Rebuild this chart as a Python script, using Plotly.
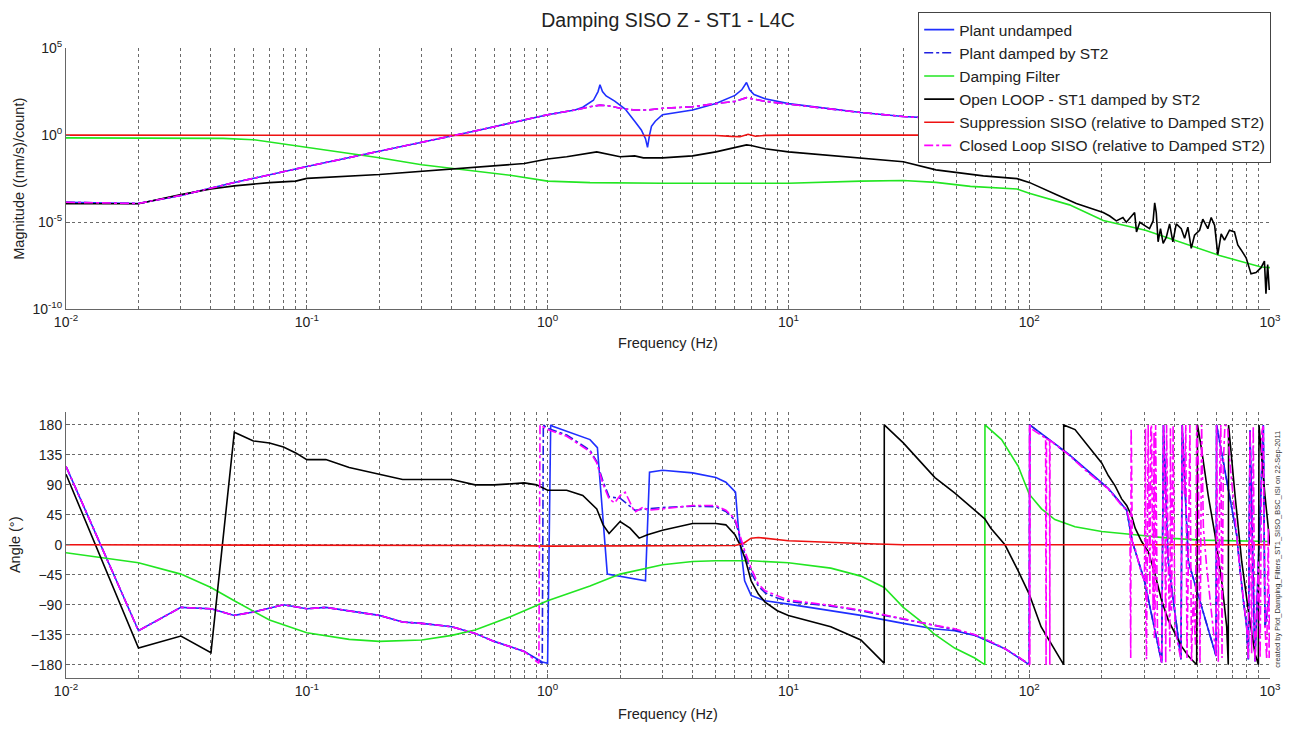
import plotly.graph_objects as go

# ---------------- Magnitude data ----------------
f_plant_mag = [0.01, 0.02, 0.03, 0.05, 0.1, 0.2, 0.4, 0.5, 1.0, 1.3, 1.4, 1.55, 1.62, 1.65, 1.69, 1.75, 1.9, 2.1,
               2.3, 2.45, 2.55, 2.6, 2.65, 2.7, 2.8, 3.0, 4.0, 5.0, 6.0, 6.4, 6.7, 6.9, 7.2, 8.0, 10, 20, 30, 40,
               100, 1000]
plant_undamped_mag = [1.4e-4, 1.2e-4, 3.5e-4, 1.9e-3, 0.0158, 0.117, 0.91, 1.74, 14.8, 27.5, 39.8, 100, 316, 776,
                      316, 178, 89, 31.6, 6.3, 2.0, 0.63, 0.2, 1.0, 3.2, 6.3, 14.8, 27.5, 64.6, 190, 398, 1047,
                      398, 214, 123, 64.6, 20, 11.7, 9.5, 4.0, 0.4]

f_damped_mag = [0.01, 0.02, 0.03, 0.05, 0.1, 0.2, 0.4, 0.5, 1.0, 1.3, 1.5, 1.65, 1.8, 2.0, 2.3, 2.6, 3.0, 4.0,
                5.0, 6.0, 6.7, 7.5, 8.0, 10, 20, 30, 40, 100, 1000]
plant_damped_mag = [1.4e-4, 1.2e-4, 3.5e-4, 1.9e-3, 0.0158, 0.117, 0.91, 1.74, 14.8, 27.5, 42.7, 52.5, 47.9, 34.7,
                    27.5, 27.5, 34.7, 42.7, 64.6, 87, 141, 110, 87, 60, 20, 11.7, 9.5, 4.0, 0.4]
closed_loop_mag = [1.4e-4, 1.2e-4, 3.5e-4, 1.9e-3, 0.0158, 0.117, 0.91, 1.74, 14.8, 27.5, 42.7, 52.5, 47.9, 34.7,
                   27.5, 27.5, 34.7, 42.7, 64.6, 87, 141, 110, 87, 60, 20, 11.7, 9.5, 4.0, 0.4]

f_filter_mag = [0.01, 0.02, 0.03, 0.045, 0.06, 0.09, 0.1, 0.2, 0.3, 0.4, 0.5, 0.7, 1.0, 1.5, 3, 10, 20, 30, 41,
                57, 89, 100, 147, 203, 304, 617, 918, 1000]
filter_mag = [0.7, 0.7, 0.7, 0.65, 0.55, 0.25, 0.21, 0.05, 0.02, 0.0126, 8.5e-3, 5.0e-3, 2.3e-3, 1.9e-3, 1.74e-3,
              1.74e-3, 2.3e-3, 2.5e-3, 1.95e-3, 1.15e-3, 8.1e-4, 4.7e-4, 1.0e-4, 1.26e-5, 3.5e-6, 1.26e-7,
              2.7e-8, 2.5e-8]

f_open_mag = [0.01, 0.02, 0.03, 0.04, 0.05, 0.07, 0.09, 0.1, 0.2, 0.3, 0.4, 0.5, 0.7, 0.8, 1.0, 1.2, 1.6, 1.8,
              2.0, 2.3, 2.5, 3.0, 4.0, 5.0, 6.0, 6.7, 7.0, 8.0, 10, 20, 30, 41, 64.5, 89, 100, 130, 157, 203,
              216, 230, 245, 253, 266, 274, 279, 288, 302, 316, 327, 332, 337, 343, 351, 360, 371, 383, 395,
              408, 428, 442, 456, 471, 486, 510, 526, 552, 570, 589, 607, 627, 647, 679, 712, 735, 759, 796,
              834, 875, 918, 948, 962, 978, 993]
open_loop_mag = [1.17e-4, 1.17e-4, 3.9e-4, 8.1e-4, 1.23e-3, 1.9e-3, 2.3e-3, 3.3e-3, 5.5e-3, 8.5e-3, 0.0117,
                 0.0141, 0.0214, 0.0234, 0.0427, 0.0575, 0.11, 0.081, 0.0575, 0.0646, 0.05, 0.05, 0.0646, 0.11,
                 0.204, 0.275, 0.257, 0.166, 0.11, 0.0468, 0.030, 0.0102, 4.6e-3, 3.2e-3, 1.95e-3, 3.8e-4,
                 1.2e-4, 3.6e-5, 2.3e-5, 1.2e-5, 1.9e-5, 1.0e-5, 2.3e-5, 3.6e-5, 2.8e-6, 1.0e-5, 6.5e-6, 4.3e-6,
                 1.2e-5, 1.3e-4, 3.6e-5, 7.6e-7, 4.3e-6, 6.2e-7, 1.4e-6, 8.1e-6, 7.6e-7, 8.1e-6, 4.3e-6,
                 1.2e-6, 5.2e-6, 3.2e-7, 1.8e-6, 3.5e-6, 1.5e-5, 4.3e-6, 1.9e-5, 6.5e-6, 1.4e-7, 2.2e-6,
                 9.5e-7, 3.5e-6, 2.8e-6, 5.0e-7, 2.6e-7, 9.1e-8, 1.1e-8, 1.3e-8, 2.5e-8, 5.9e-8, 8.1e-10,
                 3.8e-8, 1.3e-9]

f_supp_mag = [0.01, 1.0, 1.6, 5.0, 5.8, 6.3, 6.8, 7.3, 8.0, 10, 100, 1000]
suppression_mag = [1.0, 1.0, 0.95, 0.95, 0.85, 0.82, 1.12, 0.86, 0.97, 1.0, 1.0, 1.0]

# ---------------- Phase data (degrees) ----------------
f_undamped_ph = [0.01, 0.02, 0.03, 0.04, 0.05, 0.06, 0.08, 0.1, 0.12, 0.15, 0.2, 0.25, 0.3, 0.4, 0.5, 0.6, 0.8,
                 0.95, 1.0, 1.03, 1.05, 1.5, 1.61, 1.77, 2.0, 2.55, 2.65, 3.0, 4.0, 5.0, 5.5, 6.03, 6.2, 6.58,
                 7.0, 8.0, 10, 20, 30, 40, 49, 59.4, 79.3, 100, 100.5, 145, 213, 254, 268, 301, 355, 361, 378,
                 427, 432, 458, 597, 600, 727, 751, 775, 800, 813, 826, 866, 895, 938, 953, 1000]
plant_undamped_ph = [118, -129, -94, -96, -106, -101, -90, -96, -94, -99, -106, -116, -118, -123, -133, -145,
                     -160, -176, -178, 180, 178, 158, 146, -44, -47, -54, 109, 112, 108, 101, 94, 79, 25, -54,
                     -76, -84, -89, -106, -118, -126, -129, -136, -156, -180, 180, 137, 85, 52, 5, -54, -177, 180,
                     -25, -172, 180, -25, -167, 180, 15, -39, -84, -123, -172, 172, -175, -25, 180, -123, -74]

f_damped_ph = [0.01, 0.02, 0.03, 0.04, 0.05, 0.06, 0.08, 0.1, 0.12, 0.15, 0.2, 0.25, 0.3, 0.4, 0.5, 0.6, 0.8,
               0.95, 0.96, 1.0, 1.2, 1.5, 1.6, 1.7, 1.8, 2.0, 2.3, 2.6, 3, 4, 5, 5.5, 6, 6.3, 6.6, 7, 7.5, 8, 9,
               10, 15, 20, 30, 40.6, 59.4, 79.3, 100, 100.5, 145, 213, 254, 268, 301, 355, 361, 378, 427, 432,
               458, 597, 600, 727, 751, 775, 800, 813, 826, 866, 895, 938, 953, 1000]
plant_damped_ph = [118, -129, -94, -96, -106, -101, -90, -96, -94, -99, -106, -116, -118, -123, -133, -145, -160,
                   -178, 180, 175, 165, 142, 125, 95, 72, 70, 52, 54, 56, 58, 57, 50, 37, 12, -15, -42, -62, -72,
                   -80, -85, -92, -99, -112, -121, -135, -156, -179, 180, 136, 84, 52, 5, -54, -177, 180, -25,
                   -172, 180, -25, -167, 180, 15, -39, -84, -123, -172, 172, -175, -25, 180, -123, -74]

f_filter_ph = [0.01, 0.02, 0.03, 0.04, 0.05, 0.07, 0.1, 0.15, 0.2, 0.3, 0.4, 0.5, 0.7, 1.0, 1.5, 2, 3, 4, 5, 7,
               10, 15, 20, 25, 30, 35, 40, 49, 59.4, 65.4, 65.5, 76.8, 90, 100, 112.5, 127.8, 155, 200, 275,
               378, 519, 1000]
filter_ph = [-12, -27, -44, -64, -84, -113, -132, -142, -145, -143, -136, -128, -108, -84, -62, -44, -30, -25,
             -24, -24, -27, -35, -47, -64, -94, -113, -133, -155, -170, -180, 180, 158, 118, 76, 54, 38, 27, 20,
             15, 10, 7, 5]

f_open_ph = [0.01, 0.02, 0.03, 0.04, 0.05, 0.06, 0.07, 0.08, 0.09, 0.1, 0.12, 0.15, 0.2, 0.25, 0.3, 0.4, 0.5,
             0.6, 0.8, 0.9, 1.0, 1.2, 1.4, 1.6, 1.7, 1.8, 2.0, 2.2, 2.4, 2.6, 3, 4, 5, 5.5, 6, 6.3, 6.6, 7, 7.5,
             8, 9, 10, 15, 20, 25, 25.01, 30, 40.6, 49, 59.4, 65.4, 69.3, 79.3, 90, 100, 112, 126, 139, 139.1,
             155, 176, 200, 213, 227, 242, 254, 266, 275.5, 293, 312, 333, 355, 378, 403, 430, 458, 496, 500,
             520, 554, 591, 630, 661, 671, 673, 716, 763, 813, 866, 895, 900, 953, 1000]
open_loop_ph = [106, -155, -137, -162, 169, 156, 153, 147, 138, 128, 128, 116, 106, 98, 98, 98, 90, 90, 93, 90,
                82, 82, 74, 54, 30, 17, 35, 25, 10, 15, 22, 32, 32, 30, 15, 0, -20, -54, -74, -86, -99, -106,
                -123, -143, -178, 180, 153, 101, 78, 52, 39, 25, 0, -39, -74, -123, -153, -180, 180, 173, 148,
                123, 104, 89, 69, 59, 44, 25, 5, -10, -44, -84, -113, -133, -153, -167, -180, 180, 143, 74, 15,
                -54, -123, -180, 180, 74, -25, -99, -163, -180, 180, 74, 0]

f_supp_ph = [0.01, 0.5, 0.7, 1.0, 5, 6, 6.5, 7, 7.5, 9, 10, 20, 30, 1000]
suppression_ph = [0, 0, -1, -2, -2, -1, 2, 10, 11, 8, 6, 2, 0, 0]

f_closed_ph = [0.01, 0.02, 0.03, 0.04, 0.05, 0.06, 0.08, 0.1, 0.12, 0.15, 0.2, 0.25, 0.3, 0.4, 0.5, 0.6, 0.8,
               0.92, 0.93, 1.0, 1.2, 1.5, 1.6, 1.7, 1.8, 1.9, 2.0, 2.1, 2.3, 2.5, 2.6, 3, 4, 5, 5.5, 6, 6.3, 6.6,
               7, 7.5, 8, 9, 10, 15, 20, 30, 40.6, 49, 59.4, 65.4, 79.3, 90, 100, 100.3, 100.6, 101, 101.4, 117,
               117.5, 118, 121.5, 121.8, 122, 145, 176, 213,
               242, 254, 262, 264, 265, 266, 268, 275, 284, 293, 301, 304, 305, 307, 312, 315, 317, 320, 322,
               327, 330, 331, 333, 335, 341, 349, 355, 361, 366, 369, 372, 378, 384, 386, 390, 396, 403, 416,
               427, 432, 441, 447, 452, 458, 465, 472, 480, 490, 496, 504, 512, 520, 529, 546, 564, 582, 597,
               600, 610, 620, 625, 632, 640, 650, 667, 682, 704, 727, 751, 775, 800, 813, 826, 839, 852, 866,
               880, 895, 910, 925, 938, 953, 969, 984, 992, 1000]
closed_loop_ph = [118, -129, -94, -96, -106, -101, -90, -96, -94, -99, -106, -116, -118, -123, -133, -145, -160,
                  -178, 180, 173, 163, 140, 123, 91, 69, 63, 74, 79, 49, 57, 52, 54, 59, 59, 52, 39, 15, -10,
                  -35, -59, -69, -76, -83, -91, -98, -111, -121, -126, -135, -141, -156, -168, -180, 180, -180,
                  180, 175, 160, -180, 159, 157, -180, 157, 136, 108, 84,
                  59, 52, 34, -170, 175, 140, 5, -5, -25, -44, -54, 175, -120, -172, 180, -60, -74, 178, 180,
                  -99, 170, -140, -123, 180, -133, -163, -177, 180, 74, -178, 180, -25, -160, 175, -99, 180,
                  -123, -153, -172, 180, 74, 180, -170, -25, 180, -175, -74, -150, 180, 123, -178, 180, 25, -34,
                  -84, -133, -167, 180, -176, 148, 180, -170, 123, 180, 177, 123, 74, 15, -39, -84, -123, -172,
                  172, -163, 178, -175, -120, -25, -170, 170, 180, -123, -172, 25, -170, -74]

mag_tickvals = [1e-10, 1e-5, 1, 1e5]
mag_ticktext = ["10<sup>-10</sup>", "10<sup>-5</sup>", "10<sup>0</sup>", "10<sup>5</sup>"]
freq_tickvals = [0.01, 0.1, 1, 10, 100, 1000]
freq_ticktext = ["10<sup>-2</sup>", "10<sup>-1</sup>", "10<sup>0</sup>", "10<sup>1</sup>", "10<sup>2</sup>",
                 "10<sup>3</sup>"]
phase_tickvals = [-180, -135, -90, -45, 0, 45, 90, 135, 180]

names = ["Plant undamped", "Plant damped by ST2", "Damping Filter", "Open LOOP - ST1 damped by ST2",
         "Suppression SISO (relative to Damped ST2)", "Closed Loop SISO (relative to Damped ST2)"]
colors = ["#1f2fff", "#2020e0", "#22e622", "#000000", "#ee1111", "#ff00ff"]
dashes = ["solid", "dashdot", "solid", "solid", "solid", "dashdot"]

mag_series = [(f_plant_mag, plant_undamped_mag), (f_damped_mag, plant_damped_mag), (f_filter_mag, filter_mag),
              (f_open_mag, open_loop_mag), (f_supp_mag, suppression_mag), (f_damped_mag, closed_loop_mag)]
ph_series = [(f_undamped_ph, plant_undamped_ph), (f_damped_ph, plant_damped_ph), (f_filter_ph, filter_ph),
             (f_open_ph, open_loop_ph), (f_supp_ph, suppression_ph), (f_closed_ph, closed_loop_ph)]

fig = go.Figure()
for i, (fx, fy) in enumerate(mag_series):
    fig.add_trace(go.Scatter(x=fx, y=fy, mode="lines", name=names[i], legendgroup=names[i],
                             line=dict(color=colors[i], width=1.6, dash=dashes[i]),
                             xaxis="x", yaxis="y"))
for i, (fx, fy) in enumerate(ph_series):
    fig.add_trace(go.Scatter(x=fx, y=fy, mode="lines", name=names[i], legendgroup=names[i], showlegend=False,
                             line=dict(color=colors[i], width=1.6, dash=dashes[i]),
                             xaxis="x2", yaxis="y2"))

minor_vals = [m * 10 ** k for k in range(-2, 3) for m in range(2, 10)]
grid_style = dict(showgrid=True, gridcolor="#6a6a6a", gridwidth=1, griddash="dot")
axis_style = dict(showline=True, linecolor="#666", linewidth=1, ticks="inside", ticklen=4, tickcolor="#666",
                  tickfont=dict(size=14, color="#222"), zeroline=False, mirror=False)
xminor = dict(tickvals=minor_vals, ticks="inside", ticklen=3, tickcolor="#666", showgrid=True,
              gridcolor="#6a6a6a", gridwidth=1, griddash="dot")

fig.update_layout(
    width=1293, height=732,
    margin=dict(l=66, r=19, t=41, b=43),
    paper_bgcolor="white", plot_bgcolor="white",
    font=dict(family="Liberation Sans, Arial, sans-serif", color="#222"),
    title=dict(text="Damping SISO Z - ST1 - L4C", x=0.5, xref="paper", y=1 - 20 / 732, yanchor="middle",
               font=dict(size=19.5, color="#222")),
    xaxis=dict(type="log", range=[-2, 3], domain=[0, 1], anchor="y", tickvals=freq_tickvals,
               ticktext=freq_ticktext, minor=xminor,
               title=dict(text="Frequency (Hz)", font=dict(size=14.5), standoff=8), **grid_style, **axis_style),
    yaxis=dict(type="log", range=[-10, 5], domain=[0.585, 1], anchor="x", tickvals=mag_tickvals,
               ticktext=mag_ticktext,
               title=dict(text="Magnitude ((nm/s)/count)", font=dict(size=14.5), standoff=4),
               **grid_style, **axis_style),
    xaxis2=dict(type="log", range=[-2, 3], domain=[0, 1], anchor="y2", tickvals=freq_tickvals,
                ticktext=freq_ticktext, minor=xminor,
                title=dict(text="Frequency (Hz)", font=dict(size=14.5), standoff=11), **grid_style, **axis_style),
    yaxis2=dict(range=[-200, 200], domain=[0, 0.4228], anchor="x2", tickvals=phase_tickvals,
                title=dict(text="Angle (°)", font=dict(size=14.5), standoff=6),
                **grid_style, **axis_style),
    legend=dict(x=0.7078, y=1.057, xanchor="left", yanchor="top", bgcolor="white", bordercolor="#444",
                borderwidth=1, font=dict(size=15.5, color="#222"), itemwidth=30, tracegroupgap=0,
                traceorder="normal"),
    showlegend=True,
)

fig.add_annotation(text="created by Plot_Damping_Filters_ST1_SISO_BSC_ISI on 22-Sep-2011",
                   xref="paper", yref="paper", x=1.0066, y=0.205, textangle=-90, showarrow=False,
                   font=dict(size=7.5, color="#333"), xanchor="center", yanchor="middle")

fig.write_html("out.html", config={"displayModeBar": False},
               post_script="document.body.style.margin='0';document.body.style.overflow='hidden';")
